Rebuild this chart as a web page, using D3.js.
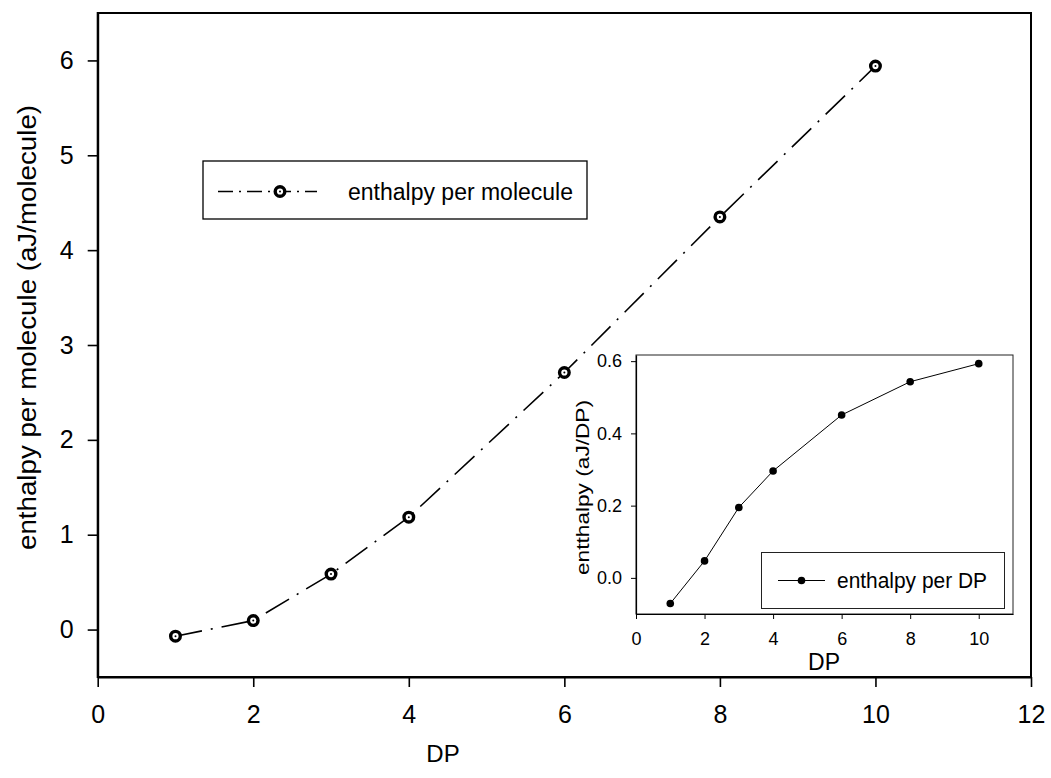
<!DOCTYPE html>
<html>
<head>
<meta charset="utf-8">
<script src="https://cdn.jsdelivr.net/npm/d3@7"></script>
<style>
  body { margin: 0; background: #fff; }
  svg { display: block; font-family: "Liberation Sans", Arial, sans-serif; }
</style>
</head>
<body>
<svg id="chart" width="1051" height="778"></svg>
<script>
// ---- data ----
const dp = [1, 2, 3, 4, 6, 8, 10];
const enthalpyPerMolecule = [-0.07, 0.095, 0.585, 1.185, 2.71, 4.35, 5.94];
const enthalpyPerDP = [-0.071, 0.047, 0.195, 0.296, 0.451, 0.543, 0.593];
const mainXTicks = [0, 2, 4, 6, 8, 10, 12];
const mainYTicks = [0, 1, 2, 3, 4, 5, 6];
const insetXTicks = [0, 2, 4, 6, 8, 10];
const insetYTicks = [0.0, 0.2, 0.4, 0.6];

const svg = d3.select("#chart");

// ---- main chart ----
const x = d3.scaleLinear().domain([0, 12]).range([97.7, 1031]);
const y = d3.scaleLinear().domain([-0.5, 6.5]).range([677, 13]);

svg.append("rect")
  .attr("x", x(0)).attr("y", y(6.5))
  .attr("width", x(12) - x(0)).attr("height", y(-0.5) - y(6.5))
  .attr("fill", "none").attr("stroke", "#000").attr("stroke-width", 2);

const gx = svg.append("g").attr("transform", `translate(0,${y(-0.5)})`)
  .call(d3.axisBottom(x).tickValues(mainXTicks).tickFormat(d3.format("d"))
    .tickSize(10).tickSizeOuter(0).tickPadding(18));
const gy = svg.append("g").attr("transform", `translate(${x(0)},0)`)
  .call(d3.axisLeft(y).tickValues(mainYTicks).tickFormat(d3.format("d"))
    .tickSize(10).tickSizeOuter(0).tickPadding(14));
[gx, gy].forEach(g => {
  g.select(".domain").attr("stroke-width", 2);
  g.selectAll(".tick line").attr("stroke-width", 1.6);
  g.selectAll("text").attr("font-size", 25).attr("font-family", "Liberation Sans, Arial, sans-serif").attr("fill", "#000");
});

svg.append("text").attr("x", 443).attr("y", 762)
  .attr("text-anchor", "middle").attr("font-size", 24).text("DP");
svg.append("text")
  .attr("transform", "translate(36,327.5) rotate(-90)")
  .attr("text-anchor", "middle").attr("font-size", 25)
  .attr("textLength", 445).attr("lengthAdjust", "spacingAndGlyphs")
  .text("enthalpy per molecule (aJ/molecule)");

// main line
const mainData = dp.map((d, i) => ({ x: d, y: enthalpyPerMolecule[i] }));
svg.append("path").datum(mainData)
  .attr("d", d3.line().x(d => x(d.x)).y(d => y(d.y)))
  .attr("fill", "none").attr("stroke", "#000").attr("stroke-width", 1.6)
  .attr("stroke-dasharray", "27,9,2,9");

function drawRingMarker(g, cx, cy) {
  g.append("circle").attr("cx", cx).attr("cy", cy).attr("r", 4.8)
    .attr("fill", "#fff").attr("stroke", "#000").attr("stroke-width", 3.4);
  g.append("circle").attr("cx", cx).attr("cy", cy).attr("r", 1).attr("fill", "#000");
}
const mk = svg.append("g");
mainData.forEach(d => drawRingMarker(mk, x(d.x), y(d.y)));

// main legend
const lg = svg.append("g");
lg.append("rect").attr("x", 203).attr("y", 161).attr("width", 384).attr("height", 58)
  .attr("fill", "#fff").attr("stroke", "#000").attr("stroke-width", 1.3);
lg.append("line").attr("x1", 218).attr("x2", 317).attr("y1", 191.5).attr("y2", 191.5)
  .attr("stroke", "#000").attr("stroke-width", 1.6).attr("stroke-dasharray", "15,6,2,6");
drawRingMarker(lg, 280, 191.5);
lg.append("text").attr("x", 348).attr("y", 200).attr("font-size", 23.5)
  .attr("textLength", 225).attr("lengthAdjust", "spacingAndGlyphs")
  .text("enthalpy per molecule");

// ---- inset ----
const ix = d3.scaleLinear().domain([0, 11]).range([636, 1013]);
const iy = d3.scaleLinear().domain([-0.1, 0.617]).range([614, 355]);

svg.append("rect")
  .attr("x", ix(0)).attr("y", iy(0.617))
  .attr("width", ix(11) - ix(0)).attr("height", iy(-0.1) - iy(0.617))
  .attr("fill", "#fff").attr("stroke", "#222").attr("stroke-width", 1);

const igx = svg.append("g").attr("transform", `translate(0,${iy(-0.1)})`)
  .call(d3.axisBottom(ix).tickValues(insetXTicks).tickFormat(d3.format("d"))
    .tickSize(5).tickSizeOuter(0).tickPadding(13.5));
const igy = svg.append("g").attr("transform", `translate(${ix(0)},0)`)
  .call(d3.axisLeft(iy).tickValues(insetYTicks).tickFormat(d3.format(".1f"))
    .tickSize(5).tickSizeOuter(0).tickPadding(9));
[igx, igy].forEach(g => {
  g.select(".domain").attr("stroke-width", 1.2);
  g.selectAll(".tick line").attr("stroke-width", 1);
  g.selectAll("text").attr("font-size", 18).attr("font-family", "Liberation Sans, Arial, sans-serif").attr("fill", "#000");
});

svg.append("text").attr("x", 824).attr("y", 670)
  .attr("text-anchor", "middle").attr("font-size", 23).text("DP");
svg.append("text")
  .attr("transform", "translate(589,487.5) rotate(-90)")
  .attr("text-anchor", "middle").attr("font-size", 19)
  .attr("textLength", 175).attr("lengthAdjust", "spacingAndGlyphs")
  .text("entthalpy (aJ/DP)");

const insetData = dp.map((d, i) => ({ x: d, y: enthalpyPerDP[i] }));
svg.append("path").datum(insetData)
  .attr("d", d3.line().x(d => ix(d.x)).y(d => iy(d.y)))
  .attr("fill", "none").attr("stroke", "#000").attr("stroke-width", 1);
svg.append("g").selectAll("circle").data(insetData).join("circle")
  .attr("cx", d => ix(d.x)).attr("cy", d => iy(d.y)).attr("r", 3.8).attr("fill", "#000");

// inset legend
const ilg = svg.append("g");
ilg.append("rect").attr("x", 761.5).attr("y", 552.5).attr("width", 243).attr("height", 56)
  .attr("fill", "#fff").attr("stroke", "#222").attr("stroke-width", 1);
ilg.append("line").attr("x1", 778).attr("x2", 825).attr("y1", 580.5).attr("y2", 580.5)
  .attr("stroke", "#000").attr("stroke-width", 1);
ilg.append("circle").attr("cx", 801.5).attr("cy", 580.5).attr("r", 3.8).attr("fill", "#000");
ilg.append("text").attr("x", 837).attr("y", 588).attr("font-size", 21.5)
  .attr("textLength", 150).attr("lengthAdjust", "spacingAndGlyphs")
  .text("enthalpy per DP");
</script>
</body>
</html>
